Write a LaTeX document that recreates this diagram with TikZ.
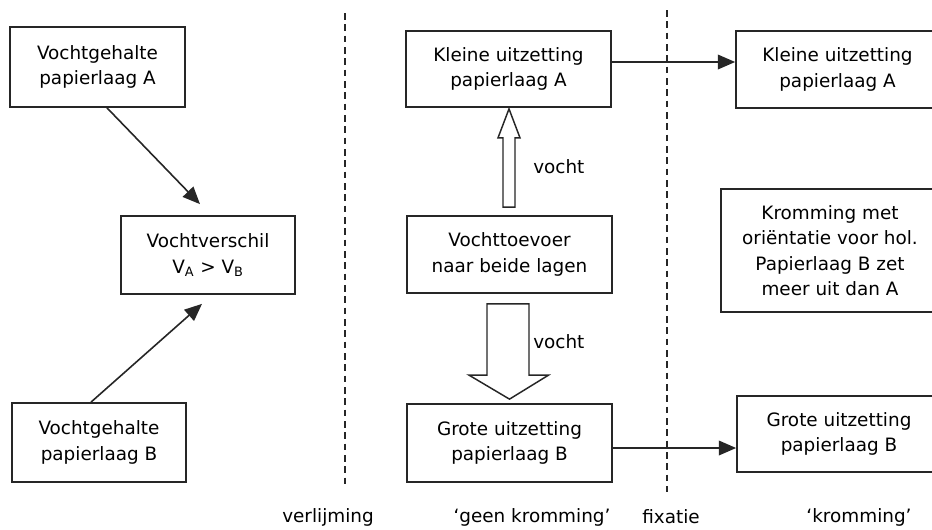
\documentclass[tikz,border=0pt]{standalone}
\usepackage{fontspec}
\setmainfont{DejaVu Sans}
\usetikzlibrary{arrows.meta,calc}
\begin{document}
\begin{tikzpicture}[x=0.75pt,y=-0.75pt,
  box/.style={draw=black!85,line width=1.3pt,inner sep=0pt,align=center,font=\fontsize{13.8}{19}\selectfont},
  arr/.style={draw=black!85,line width=1.2pt,-{Triangle[length=13pt,width=11pt]}},
  hollow/.style={draw=black!85,line width=1.1pt,fill=white,line join=miter},
  sep/.style={draw=black!85,line width=1.4pt,dash pattern=on 5pt off 3.5pt},
  lbl/.style={font=\fontsize{13.8}{19}\selectfont,inner sep=0pt}]
\useasboundingbox (0,0) rectangle (932,529);
\clip (0,0) rectangle (932,529);

% boxes
\node[box,minimum width=131.25pt,minimum height=60pt] (A1) at (97.5,67) {Vochtgehalte\\papierlaag A};
\node[box,minimum width=130.5pt,minimum height=58.5pt] (V) at (208,255) {Vochtverschil\\V\textsubscript{A} > V\textsubscript{B}};
\node[box,minimum width=130.5pt,minimum height=59.25pt] (B1) at (99,442.5) {Vochtgehalte\\papierlaag B};
\node[box,minimum width=153.75pt,minimum height=57pt] (K1) at (508.5,69) {Kleine uitzetting\\papierlaag A};
\node[box,minimum width=153.75pt,minimum height=57.75pt] (VT) at (509.5,254.5) {Vochttoevoer\\naar beide lagen};
\node[box,minimum width=153.75pt,minimum height=58.5pt] (G1) at (509.5,443) {Grote uitzetting\\papierlaag B};
\node[box,minimum width=152.25pt,minimum height=57.75pt] (K2) at (837.5,69.5) {Kleine uitzetting\\papierlaag A};
\node[box,minimum width=163.5pt,minimum height=92.25pt] (KR) at (830,250.5) {Kromming met\\oriëntatie voor hol.\\Papierlaag B zet\\meer uit dan A};
\node[box,minimum width=153pt,minimum height=57pt] (G2) at (839,434) {Grote uitzetting\\papierlaag B};

% dashed separators
\coordinate (d1t) at (345,13);
\coordinate (d1b) at (345,488);
\coordinate (d2t) at (667,10);
\coordinate (d2b) at (667,492);
\draw[sep] (d1t) -- (d1b);
\draw[sep] (d2t) -- (d2b);

% arrows
\draw[arr] ($(A1.south)+(9.5,0)$) -- ($(V.north)+(-8,-11)$);
\draw[arr] ($(B1.north)+(-8,0)$) -- ($(V.south)+(-6,9)$);
\draw[arr] ($(K1.east)+(0,-7)$) -- ($(K2.west)+(0,-7.5)$);
\draw[arr] ($(G1.east)+(0,5)$) -- ($(G2.west)+(0,14)$);

% hollow arrows
\draw[hollow] ($(K1.south)+(0.5,1)$) -- ++(11,29) -- ++(-5,0) -- ($(VT.north)+(5.5,-8)$) -- ++(-12,0) -- ($(K1.south)+(-5.5,30)$) -- ++(-5,0) -- cycle;
\draw[hollow] ($(G1.north)+(0,-4)$) -- ++(39,-24) -- ++(-19.5,0) -- ($(VT.south)+(19.5,10)$) -- ++(-42,0) -- ($(G1.north)+(-22.5,-28)$) -- ++(-18,0) -- cycle;

% labels
\node[lbl,anchor=west] (v1) at (533,167) {vocht};
\node[lbl,anchor=west] (v2) at (533,342) {vocht};
\node[lbl] (l1) at (328,517) {verlijming};
\node[lbl] (l2) at (532,517) {‘geen kromming’};
\node[lbl] (l3) at (671,517) {fixatie};
\node[lbl] (l4) at (859,517) {‘kromming’};
\end{tikzpicture}
\end{document}
